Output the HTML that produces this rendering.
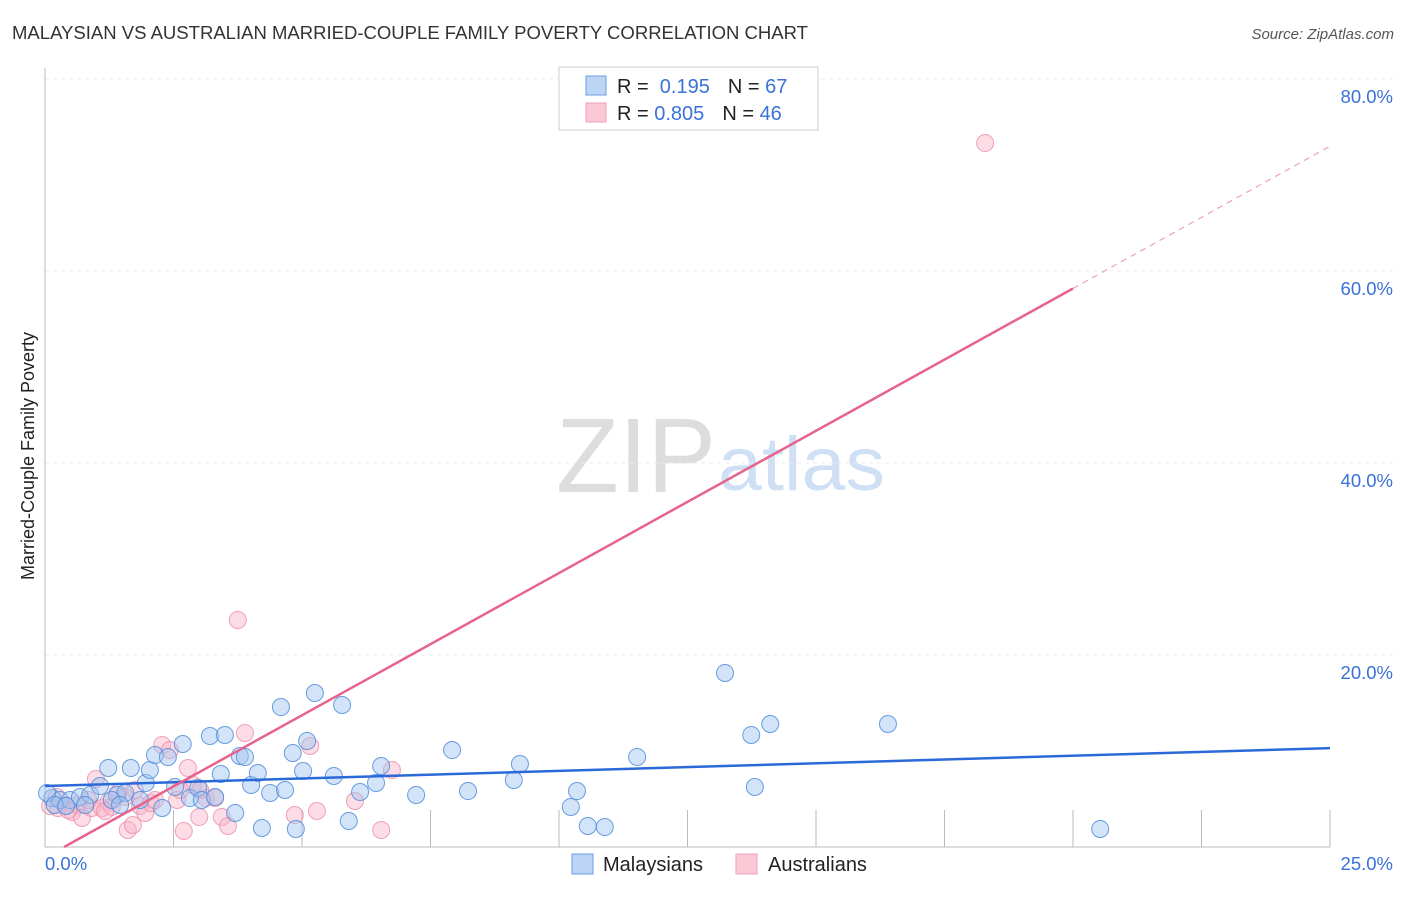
<!DOCTYPE html>
<html><head><meta charset="utf-8"><style>
body{margin:0;background:#fff;font-family:"Liberation Sans",sans-serif;}
svg text{font-family:"Liberation Sans",sans-serif;}
</style></head><body>
<svg id="c" width="1406" height="892" xmlns="http://www.w3.org/2000/svg">
<text x="12" y="39" font-size="18" fill="#333" textLength="796" lengthAdjust="spacingAndGlyphs">MALAYSIAN VS AUSTRALIAN MARRIED-COUPLE FAMILY POVERTY CORRELATION CHART</text>
<text x="1394" y="39" font-size="15" fill="#555" font-style="italic" text-anchor="end">Source: ZipAtlas.com</text>
<text x="716" y="492" font-size="106" fill="#ddd" text-anchor="end" textLength="160" lengthAdjust="spacingAndGlyphs" font-family="Liberation Serif,serif">ZIP</text>
<text x="718" y="490" font-size="76" fill="#cfe0f5" textLength="167" lengthAdjust="spacingAndGlyphs">atlas</text>
<text transform="translate(34,456) rotate(-90)" font-size="18" fill="#222" text-anchor="middle">Married-Couple Family Poverty</text>
<g id="grid"></g><g id="marks"></g>
<g>
<rect x="559" y="67" width="259" height="63" fill="#fff" stroke="#ccc"/>
<rect x="586" y="76" width="20" height="19" fill="#bcd5f5" stroke="#6a9ee0"/>
<rect x="586" y="103" width="20" height="19" fill="#fbc8d6" stroke="#f0a0b8"/>
<text x="617" y="93" font-size="20" fill="#222">R = <tspan fill="#3a72d8">&#160;0.195</tspan><tspan dx="18">N = </tspan><tspan fill="#3a72d8">67</tspan></text>
<text x="617" y="120" font-size="20" fill="#222">R = <tspan fill="#3a72d8">0.805</tspan><tspan dx="18">N = </tspan><tspan fill="#3a72d8">46</tspan></text>
</g>
<g>
<rect x="572" y="854" width="21" height="20" fill="#bcd5f5" stroke="#6a9ee0"/>
<text x="603" y="871" font-size="20" fill="#222">Malaysians</text>
<rect x="736" y="854" width="21" height="20" fill="#fbc8d6" stroke="#f0a0b8"/>
<text x="768" y="871" font-size="20" fill="#222">Australians</text>
</g>
</svg>
<script>
const yTicks=[20,40,60,80];
const yTickLabels=["20.0%","40.0%","60.0%","80.0%"];
const xTickLabels=["0.0%","25.0%"];
const blueX=[0.14,0.29,0.49,0.68,0.88,1.07,1.23,1.40,1.56,1.67,1.85,1.96,2.04,2.14,2.28,2.39,2.53,2.68,2.82,2.98,3.05,3.21,3.31,3.42,3.50,3.70,3.79,3.89,4.01,4.14,4.22,4.38,4.59,4.67,4.82,4.88,5.02,5.10,5.25,5.62,5.78,5.91,6.13,6.44,6.54,7.22,7.92,8.23,9.12,9.24,10.23,10.35,10.56,10.89,11.52,13.23,13.74,13.81,14.11,16.40,20.53,0.04,0.19,0.41,0.78,1.30,1.46];
const blueY=[5.10,4.90,4.90,5.21,5.42,6.35,8.23,5.42,5.63,8.23,4.90,6.67,8.02,9.58,4.06,9.38,6.25,10.73,5.10,6.15,4.90,11.56,5.21,7.60,11.67,3.54,9.48,9.38,6.46,7.71,1.98,5.63,14.58,5.94,9.79,1.88,7.92,11.04,16.04,7.40,14.79,2.71,5.73,6.67,8.44,5.42,10.10,5.83,6.98,8.65,4.17,5.83,2.19,2.08,9.38,18.13,11.67,6.25,12.81,12.81,1.88,5.63,4.38,4.27,4.38,4.90,4.38];
const pinkX=[0.10,0.25,0.39,0.53,0.64,0.72,0.91,0.99,1.11,1.23,1.30,1.42,1.56,1.61,1.71,1.85,1.95,2.06,2.28,2.43,2.57,2.70,2.78,2.88,3.00,3.13,3.31,3.44,3.56,3.75,3.89,4.86,5.16,5.29,6.03,6.54,6.75,18.29,0.23,0.45,0.84,1.17,1.75,2.14,2.63,3.02];
const pinkY=[4.27,4.06,4.38,3.65,4.38,3.02,4.06,7.08,4.06,4.69,4.17,5.63,5.21,1.77,2.29,4.27,3.54,4.58,10.63,10.10,4.90,1.67,8.23,6.46,3.13,5.10,5.10,3.13,2.19,23.65,11.88,3.33,10.52,3.75,4.79,1.77,8.02,73.33,5.21,3.85,4.90,3.75,5.94,4.90,5.94,5.94];
const blueTrend=[6.35,10.3];
const pinkTrend=[-1.1,73.0];
const X=v=>45+v*51.4, Y=v=>847-v*9.6;
const NS="http://www.w3.org/2000/svg";
function mk(t,a,p){const e=document.createElementNS(NS,t);for(const k in a)e.setAttribute(k,a[k]);p.appendChild(e);return e;}
const gridG=document.getElementById('grid'), marksG=document.getElementById('marks');
yTicks.forEach((t,i)=>{
 const l=mk('line',{x1:45,x2:1393,y1:Y(t),y2:Y(t),stroke:'#ebebeb','stroke-dasharray':'4,4'},gridG);
 
 
 const tx=mk('text',{x:1393,y:Y(t)+24,'font-size':18.5,fill:'#3a72d8','text-anchor':'end'},gridG);tx.textContent=yTickLabels[i];
 
 
});
const topLine=mk('line',{x1:45,x2:1393,y1:79,y2:79,stroke:'#ebebeb','stroke-dasharray':'4,4'},gridG);


const yAxisLine=mk('line',{x1:45,x2:45,y1:68,y2:847,stroke:'#bbb'},gridG);


const xAxisLine=mk('line',{x1:45,x2:1330,y1:847,y2:847,stroke:'#bbb'},gridG);


for(let i=1;i<=10;i++){const t=mk('line',{x1:X(i*2.5),x2:X(i*2.5),y1:810,y2:847,stroke:'#bbb'},gridG);
 
 }
const xl0=mk('text',{x:45,y:870,'font-size':18.5,fill:'#3a72d8'},gridG);xl0.textContent=xTickLabels[0];


const xl1=mk('text',{x:1393,y:870,'font-size':18.5,fill:'#3a72d8','text-anchor':'end'},gridG);xl1.textContent=xTickLabels[1];


pinkX.forEach((x,i)=>{const c=mk('circle',{cx:X(x),cy:Y(pinkY[i]),r:8.5,fill:'rgba(248,180,200,0.45)',stroke:'rgba(236,140,170,0.8)','stroke-width':1},marksG);
 
 });
blueX.forEach((x,i)=>{const c=mk('circle',{cx:X(x),cy:Y(blueY[i]),r:8.5,fill:'rgba(160,196,240,0.45)',stroke:'rgba(80,140,220,0.85)','stroke-width':1},marksG);
 
 });
const bl=mk('line',{x1:X(0),y1:Y(blueTrend[0]),x2:X(25),y2:Y(blueTrend[1]),stroke:'#2a6ad8','stroke-width':2.5},marksG);


const pv=x=>pinkTrend[0]+(pinkTrend[1]-pinkTrend[0])*x/25;
const x0=(0-pinkTrend[0])*25/(pinkTrend[1]-pinkTrend[0]);
const pl=mk('line',{x1:X(x0),y1:Y(0),x2:X(20),y2:Y(pv(20)),stroke:'#e8638c','stroke-width':2.5},marksG);


const pd=mk('line',{x1:X(20),y1:Y(pv(20)),x2:X(25),y2:Y(pv(25)),stroke:'#eea0b8','stroke-width':1.2,'stroke-dasharray':'6,5'},marksG);


</script>
</body></html>
